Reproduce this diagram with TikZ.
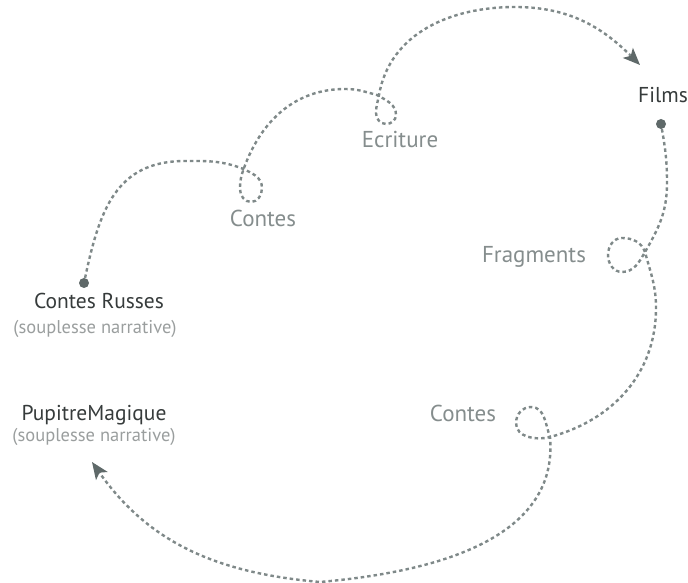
\documentclass[tikz,border=0pt]{standalone}
\usepackage{fontspec}
\setmainfont{PT Sans}
\usetikzlibrary{arrows.meta}
\definecolor{trait}{HTML}{7F8989}
\definecolor{point}{HTML}{5F6969}
\definecolor{etiq}{HTML}{858D8D}
\definecolor{fonce}{HTML}{363B3B}
\definecolor{clair}{HTML}{9A9E9E}
\begin{document}
\begin{tikzpicture}[x=1pt,y=1pt,
    chemin/.style={trait, line width=2.4pt, dash pattern=on 3.5pt off 3pt},
    fleche/.style={-{Stealth[length=17pt,width=14pt,inset=4pt,fill=point,color=point]}},
    dot/.style={circle, fill=point, inner sep=0pt, minimum size=10pt},
    etape/.style={etiq, font=\fontsize{23}{25}\selectfont},
    titrebox/.style={fonce, font=\fontsize{21.5}{23}\selectfont},
    soustitre/.style={clair, font=\fontsize{18.5}{20}\selectfont}]
    \useasboundingbox (0,0) rectangle (688,583);

    % Points de depart
    \node[dot] (russes) at (84,300) {};
    \node[dot] (films) at (661,459) {};
    \coordinate (versFilms) at (640,518);
    \coordinate (versPupitre) at (92,121);

    % Etiquettes
    \node[titrebox] (lRusses) at (99,282) {Contes Russes};
    \node[soustitre] (sRusses) at (95,254) {(souplesse narrative)};
    \node[titrebox] (lPupitre) at (94,168) {PupitreMagique};
    \node[soustitre] (sPupitre) at (94,146) {(souplesse narrative)};
    \node[titrebox, anchor=east, inner xsep=0pt] (lFilms) at (688,488) {Films};
    \node[etape] (lContesA) at (263,365) {Contes};
    \node[etape] (lEcriture) at (400,443) {Ecriture};
    \node[etape] (lFragments) at (534,326) {Fragments};
    \node[etape] (lContesB) at (463,170) {Contes};

    % Premier trajet : Contes Russes -> Films
    \draw[chemin, fleche] (russes) to[out=78,in=180,looseness=1.15] (185,422) to[out=0,in=160] (241,415)
        to[out=-25,in=90] (262,395) to[out=-90,in=0] (251,381) to[out=180,in=-90] (240,394)
        to[out=90,in=-110] (244,415) to[out=70,in=180] (345,494) to[out=0,in=165] (377,488)
        to[out=-30,in=90] (396,468) to[out=-90,in=0] (386,459) to[out=180,in=-90] (376,470)
        to[out=90,in=-100] (379,488) to[out=80,in=180] (515,576) to[out=0,in=135] (versFilms);

    % Second trajet : Films -> PupitreMagique
    \draw[chemin, fleche] (films) to[out=-80,in=90] (667,400) to[out=-90,in=60] (645,331)
        to[out=-120,in=0] (622,311) to[out=180,in=-90] (608,328) to[out=90,in=180] (622,345)
        to[out=0,in=110] (645,331) to[out=-75,in=90] (656,275) to[out=-90,in=15] (550,146)
        to[out=195,in=-90] (516,160) to[out=90,in=180] (531,176) to[out=0,in=110] (550,146)
        to[out=-85,in=5] (320,1) to[out=175,in=-55] (versPupitre);
\end{tikzpicture}
\end{document}
